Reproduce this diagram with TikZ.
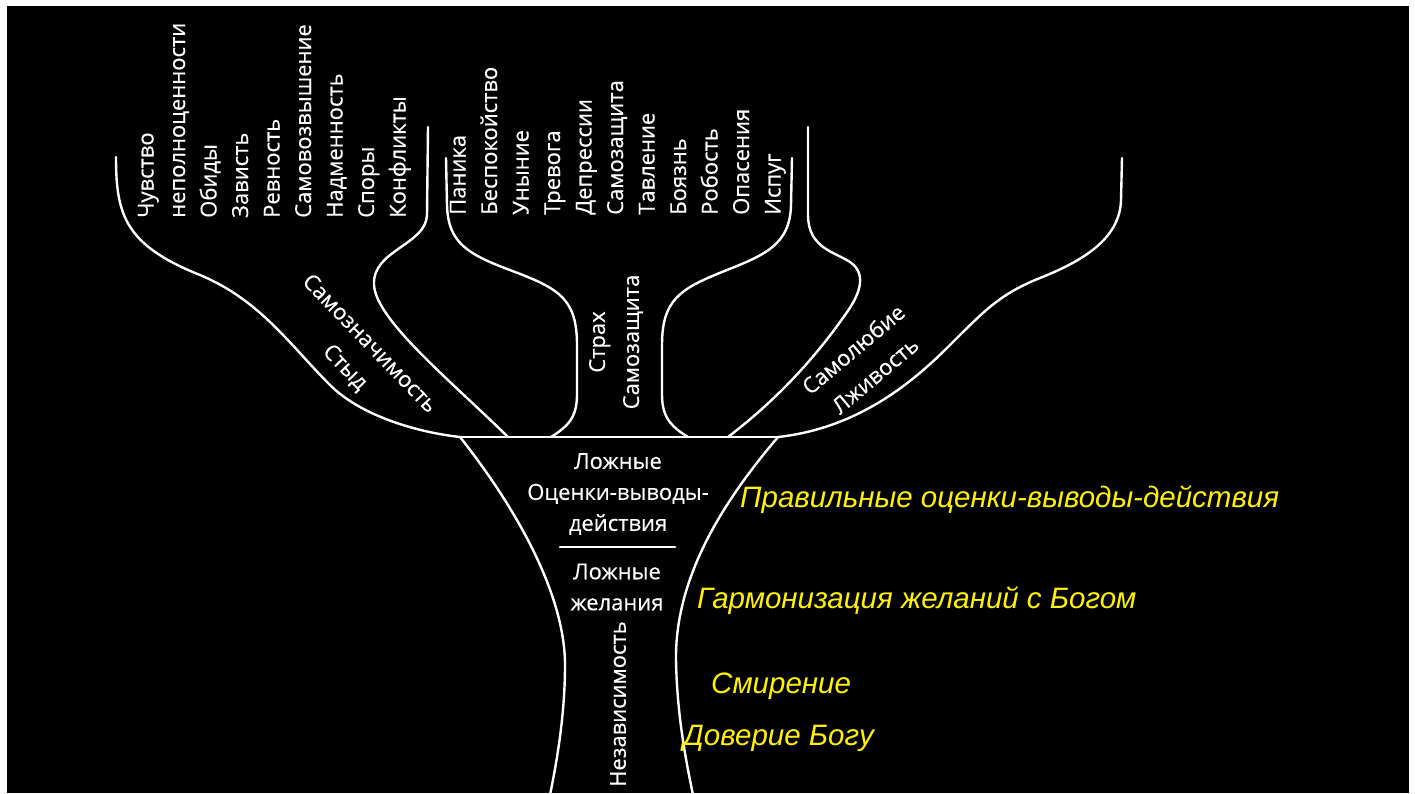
\documentclass[tikz,border=0pt]{standalone}
\usepackage{fontspec}
\setmainfont{Open Sans}[BoldFont={Open Sans},BoldFeatures={FakeBold=0.4}]
\newfontfamily\yfont{Liberation Sans}

\begin{document}
\begin{tikzpicture}[x=1pt,y=-1pt,
  line/.style={white,line width=2.4pt,line cap=round,line join=round},
  word/.style={rotate=90,anchor=west,inner sep=0pt,text=white,
    font=\bfseries\fontsize{22}{26}\selectfont,text height=16pt,text depth=5pt},
  lbl/.style={text=white,inner sep=0pt,align=center,font=\bfseries\fontsize{22}{31}\selectfont},
  slant/.style={text=white,inner sep=0pt,align=center,font=\bfseries\fontsize{22}{34}\selectfont},
  good/.style={text=yellow,inner sep=0pt,anchor=west,font=\yfont\itshape\fontsize{29.5}{34}\selectfont}]
  \useasboundingbox (0,0) rectangle (1415,793);
  \fill[white] (0,0) rectangle (1415,793);
  \fill[black] (7,6) rectangle (1409,793);

  % top of the funnel
  \coordinate (tl) at (460,437);
  \coordinate (tr) at (778,437);
  \draw[line] (tl) -- (tr);

  % branches
  \draw[line] (116,157) .. controls (116,215) and (125,245) .. (200,275)
    .. controls (260,300) and (290,345) .. (330,385)
    .. controls (360,415) and (415,432) .. (tl);
  \draw[line] (428,127) -- (427,215) .. controls (426,245) and (372,250) .. (374,285)
    .. controls (376,320) and (450,380) .. (508,437);
  \draw[line] (446,158) -- (447,205) .. controls (448,245) and (470,255) .. (515,272)
    .. controls (560,289) and (577,300) .. (577,345) -- (577,395)
    .. controls (577,420) and (565,428) .. (551,437);
  \draw[line] (792,158) -- (791,205) .. controls (790,245) and (765,255) .. (722,272)
    .. controls (680,289) and (662,300) .. (662,345) -- (662,395)
    .. controls (662,420) and (674,428) .. (688,437);
  \draw[line] (808,127) -- (808,215) .. controls (808,248) and (835,252) .. (850,262)
    .. controls (866,273) and (862,292) .. (845,315)
    .. controls (810,365) and (770,405) .. (728,437);
  \draw[line] (1122,158) -- (1121,200) .. controls (1120,240) and (1080,262) .. (1040,278)
    .. controls (1000,294) and (985,310) .. (950,345)
    .. controls (915,380) and (860,428) .. (tr);

  % trunk
  \draw[line] (tl) .. controls (510,500) and (565,590) .. (565,665)
    .. controls (565,720) and (555,770) .. (550,795);
  \draw[line] (tr) .. controls (720,505) and (675,580) .. (676,660)
    .. controls (677,720) and (688,770) .. (693,795);
  \draw[line] (560,547) -- (675,547);

  % words on the branches
  \foreach \w [count=\i] in {Чувство,неполноценности,Обиды,Зависть,Ревность,
      Самовозвышение,Надменность,Споры,Конфликты} {
    \node[word] (pride\i) at ({148+31.5*(\i-1)},218) {\w};
  }
  \foreach \w [count=\i] in {Паника,Беспокойство,Уныние,Тревога,Депрессии,
      Самозащита,Тавление,Боязнь,Робость,Опасения,Испуг} {
    \node[word] (fear\i) at ({460+31.5*(\i-1)},215) {\w};
  }

  \node[slant,rotate=-46] (shame) at (357,356) {Самозначимость\\Стыд};
  \node[slant,rotate=90] (fear) at (616,342) {Страх\\Самозащита};
  \node[slant,rotate=40] (lie) at (864,362) {Самолюбие\\Лживость};

  % inside the funnel
  \node[lbl] (deeds) at (618,494) {Ложные\\Оценки-выводы-\\действия};
  \node[lbl] (wish) at (617,587) {Ложные\\желания};
  \node[slant,rotate=90] (free) at (618,704) {Независимость};

  % the right way
  \node[good] (right) at (740,500) {Правильные оценки-выводы-действия};
  \node[good] (harm) at (697,601) {Гармонизация желаний с Богом};
  \node[good] (humble) at (711,686) {Смирение};
  \node[good] (trust) at (683,738) {Доверие Богу};
\end{tikzpicture}
\end{document}
